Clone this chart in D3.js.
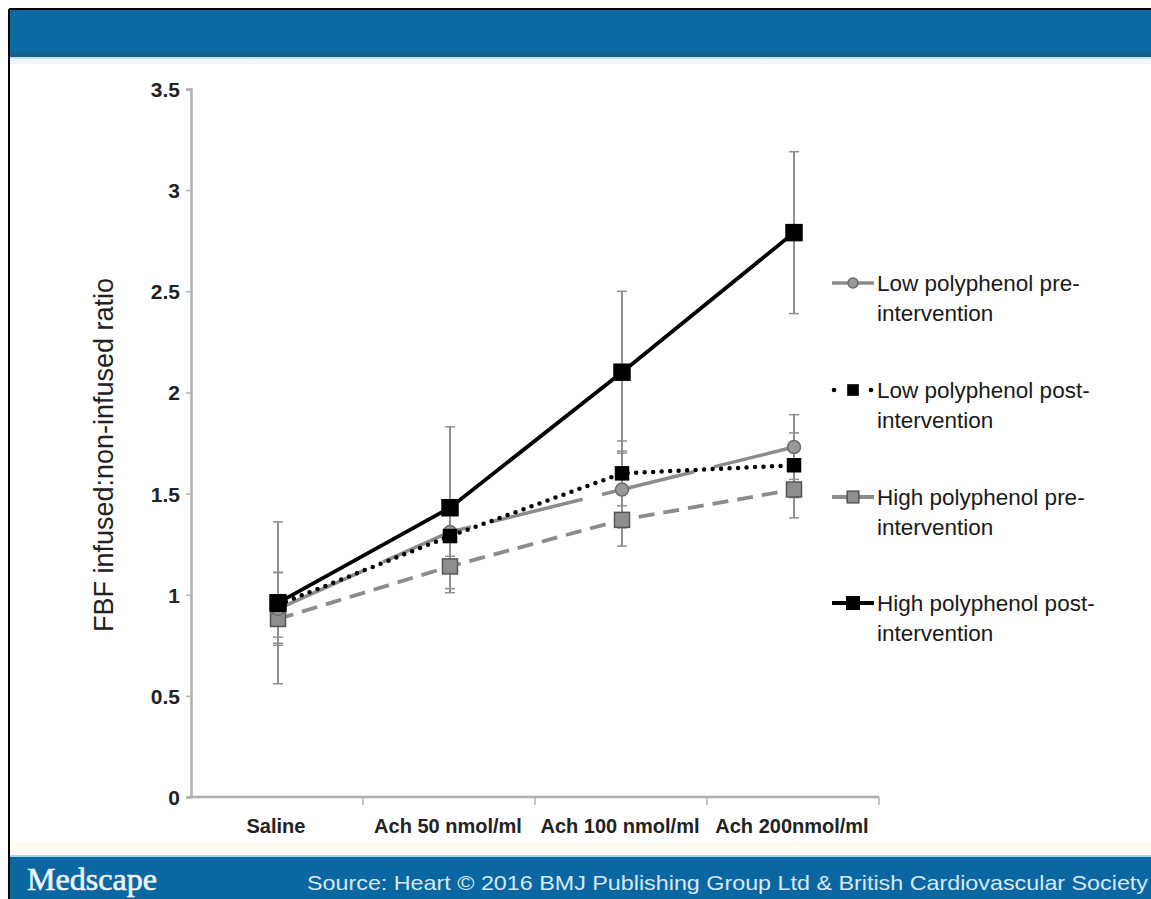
<!DOCTYPE html>
<html>
<head>
<meta charset="utf-8">
<script src="https://cdn.jsdelivr.net/npm/d3@7/dist/d3.min.js"></script>
<style>
  html, body { margin: 0; padding: 0; background: #fff; }
  svg { display: block; }
  text { font-family: "Liberation Sans", Arial, Helvetica, sans-serif; }
</style>
</head>
<body>
<svg id="chart" width="1151" height="899"></svg>
<script>
// ---------------- DATA ----------------
const categories = ["Saline", "Ach 50 nmol/ml", "Ach 100 nmol/ml", "Ach 200nmol/ml"];

const seriesNames = [
  "Low polyphenol pre-intervention",
  "Low polyphenol post-intervention",
  "High polyphenol pre-intervention",
  "High polyphenol post-intervention"
];

const lowPreValues   = [0.93, 1.31, 1.52, 1.73];
const lowPreErrors   = [0.18, 0.12, 0.19, 0.16];
const lowPostValues  = [0.95, 1.29, 1.60, 1.64];
const lowPostErrors  = [0.16, 0.12, 0.16, 0.16];
const highPreValues  = [0.88, 1.14, 1.37, 1.52];
const highPreErrors  = [0.12, 0.13, 0.13, 0.14];
const highPostValues = [0.96, 1.43, 2.10, 2.79];
const highPostErrors = [0.40, 0.40, 0.40, 0.40];

const yTickValues = [0, 0.5, 1, 1.5, 2, 2.5, 3, 3.5];
const yTickLabels = ["0", "0.5", "1", "1.5", "2", "2.5", "3", "3.5"];

const legendLines = [
  ["Low polyphenol pre-", "intervention"],
  ["Low polyphenol post-", "intervention"],
  ["High polyphenol pre-", "intervention"],
  ["High polyphenol post-", "intervention"]
];

const yTitle = "FBF infused:non-infused ratio";
const sourceText = "Source: Heart \u00A9 2016 BMJ Publishing Group Ltd & British Cardiovascular Society";
const brandText = "Medscape";

// ---------------- STYLES ----------------
const styles = [
  { line: "#8c8c8c", width: 3.5, dash: "95 20", cap: "butt", marker: "circle", fill: "#999", stroke: "#6a6a6a", size: 14 },
  { line: "#000",    width: 4.5, dash: "0 8.5", cap: "round", marker: "square", fill: "#000", stroke: "#000", size: 13 },
  { line: "#8c8c8c", width: 3.8, dash: "16 9", cap: "butt", marker: "square", fill: "#8e8e8e", stroke: "#555", size: 15 },
  { line: "#000",    width: 3.8, dash: null, cap: "butt", marker: "square", fill: "#000", stroke: "#000", size: 16 }
];

const series = [
  { name: seriesNames[0], values: lowPreValues,  errors: lowPreErrors },
  { name: seriesNames[1], values: lowPostValues, errors: lowPostErrors },
  { name: seriesNames[2], values: highPreValues, errors: highPreErrors },
  { name: seriesNames[3], values: highPostValues, errors: highPostErrors }
];

// ---------------- LAYOUT ----------------
const svg = d3.select("#chart");
const W = 1151, H = 899;

const x = d3.scaleBand().domain(categories).range([191, 879]).paddingInner(0).paddingOuter(0);
const y = d3.scaleLinear().domain([0, 3.5]).range([797, 89]);

svg.append("rect").attr("x", 0).attr("y", 0).attr("width", W).attr("height", H).attr("fill", "#fff");

const defs = svg.append("defs");
const gTop = defs.append("linearGradient").attr("id", "topband").attr("x1", 0).attr("y1", 0).attr("x2", 0).attr("y2", 1);
gTop.append("stop").attr("offset", "0%").attr("stop-color", "#0d69a3");
gTop.append("stop").attr("offset", "85%").attr("stop-color", "#0b6aa6");
gTop.append("stop").attr("offset", "100%").attr("stop-color", "#1d5a7e");

svg.append("rect").attr("x", 10).attr("y", 10).attr("width", W - 10).attr("height", 47).attr("fill", "url(#topband)");
svg.append("rect").attr("x", 10).attr("y", 57).attr("width", W - 10).attr("height", 2).attr("fill", "#bfe6f2");
svg.append("rect").attr("x", 10).attr("y", 59).attr("width", W - 10).attr("height", 5).attr("fill", "#f0f9fc");

svg.append("rect").attr("x", 10).attr("y", 842).attr("width", W - 10).attr("height", 13).attr("fill", "#fffbf2");
svg.append("rect").attr("x", 10).attr("y", 855).attr("width", W - 10).attr("height", 2).attr("fill", "#a9d6e8");
svg.append("rect").attr("x", 10).attr("y", 857).attr("width", W - 10).attr("height", H - 857).attr("fill", "#0b67a1");

svg.append("line").attr("x1", 9).attr("x2", 9).attr("y1", 9).attr("y2", H).attr("stroke", "#000").attr("stroke-width", 2);
svg.append("line").attr("x1", 9).attr("x2", W).attr("y1", 9).attr("y2", 9).attr("stroke", "#000").attr("stroke-width", 2);

svg.append("text").attr("x", 27).attr("y", 890)
  .style("font-family", "'Liberation Serif', 'DejaVu Serif', serif")
  .style("font-size", "32px").attr("fill", "#eef4fa")
  .attr("stroke", "#eef4fa").attr("stroke-width", 0.6)
  .attr("textLength", 130).attr("lengthAdjust", "spacingAndGlyphs")
  .text(brandText);

svg.append("text").attr("x", 307).attr("y", 890)
  .style("font-size", "21px").attr("fill", "#d7e8f4")
  .attr("textLength", 841).attr("lengthAdjust", "spacingAndGlyphs")
  .text(sourceText);

// ---------------- AXES ----------------
const axisColor = "#b0b0b0";

const yAxis = d3.axisLeft(y)
  .tickValues(yTickValues)
  .tickFormat((d, i) => yTickLabels[i])
  .tickSize(5)
  .tickPadding(6);

const gy = svg.append("g").attr("transform", "translate(191,0)").call(yAxis);
gy.select(".domain").attr("stroke", axisColor).attr("stroke-width", 2.5);
gy.selectAll(".tick line").attr("stroke", axisColor).attr("stroke-width", 1.5);
gy.selectAll(".tick text")
  .style("font-size", "21px").attr("fill", "#222").style("font-weight", "bold")
  .attr("dy", "0.36em");

const boundaries = categories.map(c => x(c)).concat([x(categories[categories.length - 1]) + x.bandwidth()]);
const gx = svg.append("g");
gx.append("line").attr("x1", 189).attr("x2", boundaries[boundaries.length - 1])
  .attr("y1", y(0)).attr("y2", y(0)).attr("stroke", axisColor).attr("stroke-width", 2.5);
gx.selectAll("line.bt").data(boundaries.slice(1)).enter().append("line")
  .attr("class", "bt")
  .attr("x1", d => d).attr("x2", d => d)
  .attr("y1", y(0)).attr("y2", y(0) + 8)
  .attr("stroke", axisColor).attr("stroke-width", 1.5);
gx.selectAll("text.cat").data(categories).enter().append("text")
  .attr("class", "cat")
  .attr("x", d => x(d) + x.bandwidth() / 2 - 1)
  .attr("y", 833)
  .attr("text-anchor", "middle")
  .style("font-size", "20px").attr("fill", "#222").style("font-weight", "bold")
  .text(d => d);

svg.append("text")
  .attr("transform", `translate(113, ${455}) rotate(-90)`)
  .attr("text-anchor", "middle")
  .style("font-size", "27px").attr("fill", "#222")
  .text(yTitle);

// ---------------- DATA MARKS ----------------
const px = c => x(c) + x.bandwidth() / 2 + 1;

const errColor = "#8f8f8f";
series.forEach((s) => {
  const g = svg.append("g").attr("class", "err");
  const rows = categories.map((c, i) => ({ c, v: s.values[i], e: s.errors[i] }));
  g.selectAll("line.v").data(rows).enter().append("line")
    .attr("x1", d => px(d.c)).attr("x2", d => px(d.c))
    .attr("y1", d => y(d.v + d.e)).attr("y2", d => y(d.v - d.e))
    .attr("stroke", errColor).attr("stroke-width", 2);
  ["top", "bot"].forEach(k => {
    g.selectAll("line." + k).data(rows).enter().append("line")
      .attr("x1", d => px(d.c) - 5).attr("x2", d => px(d.c) + 5)
      .attr("y1", d => y(k === "top" ? d.v + d.e : d.v - d.e))
      .attr("y2", d => y(k === "top" ? d.v + d.e : d.v - d.e))
      .attr("stroke", errColor).attr("stroke-width", 1.5);
  });
});

const line = d3.line().x(d => px(d.c)).y(d => y(d.v));
const drawOrder = [2, 0, 1, 3];
drawOrder.forEach(si => {
  const s = series[si], st = styles[si];
  const rows = categories.map((c, i) => ({ c, v: s.values[i] }));
  svg.append("path").datum(rows)
    .attr("d", line)
    .attr("fill", "none")
    .attr("stroke", st.line)
    .attr("stroke-width", st.width)
    .attr("stroke-linecap", st.cap)
    .attr("stroke-dasharray", st.dash);
});

function drawMarker(g, cx, cy, st, scale) {
  const sz = st.size * (scale || 1);
  if (st.marker === "circle") {
    g.append("circle").attr("cx", cx).attr("cy", cy).attr("r", sz / 2 - 0.5)
      .attr("fill", st.fill).attr("stroke", st.stroke).attr("stroke-width", 1.5);
  } else {
    g.append("rect").attr("x", cx - sz / 2).attr("y", cy - sz / 2)
      .attr("width", sz).attr("height", sz)
      .attr("fill", st.fill).attr("stroke", st.stroke).attr("stroke-width", 1.5);
  }
}
drawOrder.forEach(si => {
  const s = series[si], st = styles[si];
  const g = svg.append("g");
  categories.forEach((c, i) => drawMarker(g, px(c), y(s.values[i]), st));
});

// ---------------- LEGEND ----------------
const legendRowY = [283, 390, 497, 603];
const lg = svg.append("g");
series.forEach((s, si) => {
  const st = styles[si];
  const cy = legendRowY[si];
  if (si === 1) {
    [834, 871].forEach(dx => lg.append("circle").attr("cx", dx).attr("cy", cy).attr("r", 2.3).attr("fill", "#000"));
  } else {
    lg.append("line").attr("x1", 832).attr("x2", 874).attr("y1", cy).attr("y2", cy)
      .attr("stroke", st.line).attr("stroke-width", st.width);
  }
  drawMarker(lg, 853, cy, st, 0.78);
  const t = lg.append("text").attr("x", 877).attr("y", cy + 8)
    .style("font-size", "22.5px").attr("fill", "#1a1a1a");
  t.append("tspan").attr("x", 877).text(legendLines[si][0]);
  t.append("tspan").attr("x", 877).attr("dy", 30).text(legendLines[si][1]);
});
</script>
</body>
</html>
